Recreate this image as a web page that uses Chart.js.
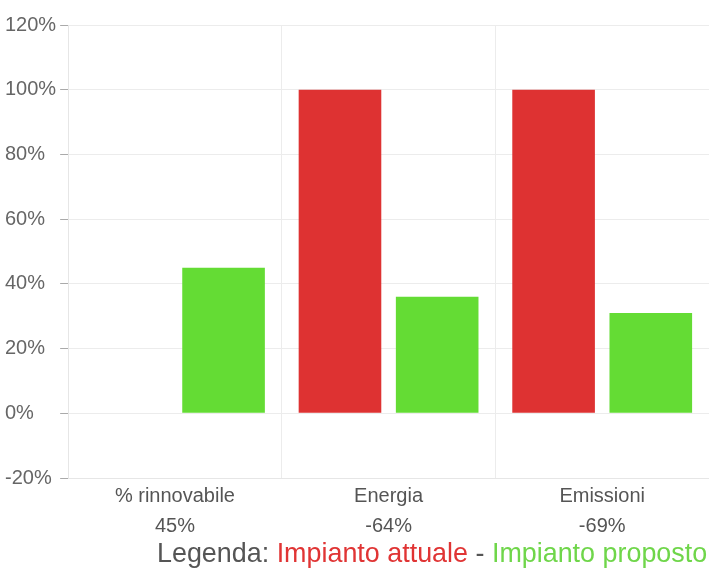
<!DOCTYPE html>
<html>
<head>
<meta charset="utf-8">
<script src="https://cdn.jsdelivr.net/npm/chart.js@4"></script>
<style>
  body { margin: 0; background: #fff; }
  #wrap { position: relative; width: 709px; height: 544px; }
  #legenda {
    font-family: "Liberation Sans", Arial, sans-serif;
    font-size: 26.9px;
    color: #555;
    position: absolute;
    top: 538px;
    left: 157px;
    white-space: nowrap;
  }
  #legenda .att { color: #e03434; }
  #legenda .pro { color: #6fd64a; }
</style>
</head>
<body>
<div id="wrap"><canvas id="barChart"></canvas></div>
<div id="legenda">Legenda: <span class="att">Impianto attuale</span> - <span class="pro">Impianto proposto</span></div>
<script>
const categories = [['% rinnovabile', '45%'], ['Energia', '-64%'], ['Emissioni', '-69%']];
const attuale = [0, 100, 100];
const proposto = [45, 36, 31];
const yTicks = [-20, 0, 20, 40, 60, 80, 100, 120];

const ctx = document.getElementById('barChart').getContext('2d');
const barChart = new Chart(ctx, {
    type: 'bar',
    data: {
        labels: categories,
        datasets: [{
            label: 'Impianto attuale',
            data: attuale,
            backgroundColor: '#de3232',
            categoryPercentage: 0.91,
            barPercentage: 0.85
        }, {
            label: 'Impianto proposto',
            data: proposto,
            backgroundColor: '#64dc34',
            categoryPercentage: 0.91,
            barPercentage: 0.85
        }]
    },
    options: {
        responsive: true,
        maintainAspectRatio: false,
        animation: false,
        layout: { padding: { left: 5, top: 25, right: 0, bottom: 0 } },
        plugins: {
            legend: { display: false },
            tooltip: { enabled: false }
        },
        scales: {
            x: {
                grid: { color: '#ececec', offset: true, drawTicks: false },
                border: { color: '#e6e6e6' },
                ticks: {
                    color: '#555',
                    font: { family: '"Liberation Sans", Arial, sans-serif', size: 20, lineHeight: 1.5 },
                    padding: 3
                }
            },
            y: {
                min: -20,
                max: 120,
                afterBuildTicks: axis => { axis.ticks = yTicks.map(v => ({ value: v })); },
                grid: { color: '#ececec', tickLength: 8, tickColor: '#aaa' },
                border: { color: '#e6e6e6' },
                ticks: {
                    color: '#666',
                    crossAlign: 'far',
                    padding: 2,
                    font: { family: '"Liberation Sans", Arial, sans-serif', size: 20 },
                    callback: v => v + '%'
                }
            }
        }
    }
});
</script>
</body>
</html>
